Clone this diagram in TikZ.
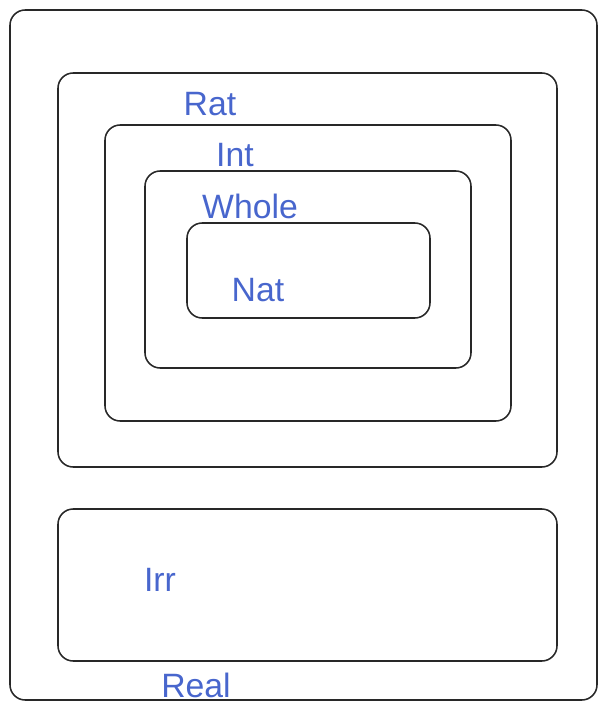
\documentclass[tikz,border=0pt]{standalone}
\usepackage{fontspec}
\setmainfont{Liberation Sans}
\usepackage{xcolor}
\usetikzlibrary{positioning}
\definecolor{ink}{RGB}{72,102,205}
\definecolor{edge}{RGB}{40,40,40}

\begin{document}
\begin{tikzpicture}[x=0.025cm,y=-0.025cm,
  box/.style={draw=edge,line width=1.1pt,rounded corners=0.38cm},
  lbl/.style={text=ink,font=\fontsize{24}{27}\selectfont,inner sep=0pt}]
\useasboundingbox (0,0) rectangle (598,703);
% sets, outer to inner
\draw[box] (10,10) rectangle (597,700);
\draw[box] (58,73) rectangle (557,467);
\draw[box] (105,125) rectangle (511,421);
\draw[box] (145,171) rectangle (471,368);
\draw[box] (187,223) rectangle (430,318);
\draw[box] (58,509) rectangle (557,661);
% names
\node[lbl] (rat) at (210,104) {Rat};
\node[lbl] (int) at (235,155) {Int};
\node[lbl] (whole) at (250,206) {Whole};
\node[lbl] (nat) at (258,290) {Nat};
\node[lbl] (irr) at (160,580) {Irr};
\node[lbl] (real) at (196,685) {Real};
\end{tikzpicture}
\end{document}
